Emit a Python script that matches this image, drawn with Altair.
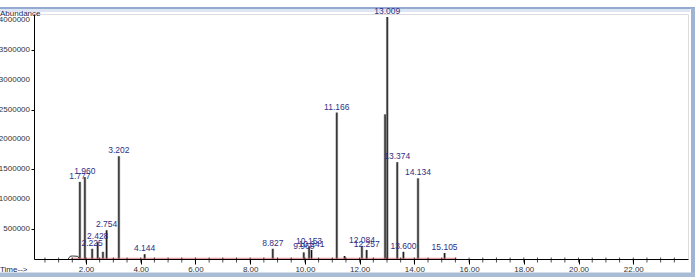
import altair as alt
import pandas as pd

# Peak retention times (min), apex abundances and labels
peak_rt = [1.777, 1.960, 2.225, 2.428, 2.620, 2.754, 3.202, 4.144, 8.827, 9.960,
           10.153, 10.241, 11.166, 11.450, 12.084, 12.257, 12.930, 13.009, 13.374,
           13.600, 14.134, 15.105]
peak_height = [1290000, 1370000, 170000, 280000, 120000, 480000, 1720000, 80000, 170000, 110000,
               200000, 150000, 2450000, 50000, 220000, 150000, 2420000, 4050000, 1620000,
               120000, 1350000, 100000]
peak_label = ["1.777", "1.960", "2.225", "2.428", "", "2.754", "3.202", "4.144", "8.827", "9.960",
              "10.153", "10.241", "11.166", "", "12.084", "12.257", "", "13.009", "13.374",
              "13.600", "14.134", "15.105"]

# small baseline humps of the trace
base_t = [1.35, 1.42, 1.50, 1.70, 1.76]
base_v = [0, 45000, 50000, 45000, 0]

# integration baseline (red)
red_t = [1.45, 15.55]
red_v = [12000, 12000]

x_ticks = [2, 4, 6, 8, 10, 12, 14, 16, 18, 20, 22]
x_minor = [i * 0.5 for i in range(1, 48)]
y_ticks = [500000, 1000000, 1500000, 2000000, 2500000, 3000000, 3500000, 4000000]

X_DOM = [0.1, 24.0]
Y_DOM = [0, 4100000]
W, H = 654, 245
FONT = "Liberation Sans"

peaks = pd.DataFrame({"t": peak_rt, "h": peak_height, "lab": peak_label})
base = pd.DataFrame({"t": base_t, "v": base_v})
red = pd.DataFrame({"t": red_t, "v": red_v})
yt = pd.DataFrame({"v": y_ticks, "s": [str(v) for v in y_ticks]})
one = pd.DataFrame({"a": [0]})

xs = alt.Scale(domain=X_DOM, nice=False, zero=False)
ys = alt.Scale(domain=Y_DOM, nice=False)

x_axis = alt.Axis(values=x_ticks, format=".2f", title=None, grid=False, domainColor="#000",
                  tickColor="#000", tickSize=5, labelFontSize=8, labelFont=FONT,
                  labelColor="#333", labelPadding=1, labelFlush=False, labelOverlap=False)
y_axis = alt.Axis(values=y_ticks, title=None, grid=False, domainColor="#000",
                  tickColor="#000", tickSize=3, labels=False)

minor = alt.Chart(pd.DataFrame({"t": x_minor})).mark_tick(
    orient="vertical", color="#000", size=5, thickness=1
).encode(
    x=alt.X("t:Q", scale=xs, axis=x_axis),
    y=alt.value(H + 1),
)

peak_gray = alt.Chart(peaks).mark_rule(color="#9a9a9a", strokeWidth=2.6).encode(
    x=alt.X("t:Q", scale=xs, axis=x_axis),
    y=alt.Y("h:Q", scale=ys, axis=y_axis),
    y2=alt.datum(0),
)
peak_black = alt.Chart(peaks).mark_rule(color="#111", strokeWidth=1).encode(
    x=alt.X("t:Q", scale=xs),
    y=alt.Y("h:Q", scale=ys),
    y2=alt.datum(0),
)

ylabels = alt.Chart(yt).mark_text(
    fontSize=8, font=FONT, color="#333", align="right", baseline="middle"
).encode(
    x=alt.value(-4),
    y=alt.Y("v:Q", scale=ys),
    text="s:N",
)

base_line = alt.Chart(base).mark_line(color="#333", strokeWidth=1).encode(
    x=alt.X("t:Q", scale=xs), y=alt.Y("v:Q", scale=ys)
)
red_line = alt.Chart(red).mark_line(color="#e06868", strokeWidth=0.8).encode(
    x=alt.X("t:Q", scale=xs), y=alt.Y("v:Q", scale=ys)
)

labels = alt.Chart(peaks).transform_filter("datum.lab != ''").mark_text(
    color="#2f2f86", fontSize=8.5, font=FONT, baseline="bottom", dy=-1
).encode(
    x=alt.X("t:Q", scale=xs),
    y=alt.Y("h:Q", scale=ys),
    text="lab:N",
)

abund = alt.Chart(one).mark_text(
    text="Abundance", fontSize=8, font=FONT, color="#1d1d4a", align="left", baseline="middle"
).encode(x=alt.value(-34), y=alt.value(0))
time_t = alt.Chart(one).mark_text(
    text="Time-->", fontSize=8, font=FONT, color="#1d1d4a", align="left", baseline="middle"
).encode(x=alt.value(-34), y=alt.value(256))

frame_top = alt.Chart(one).mark_rule(color="#6f8fc0", strokeWidth=1.6).encode(
    x=alt.value(-34), x2=alt.value(661), y=alt.value(-6)
)
frame_top2 = alt.Chart(one).mark_rule(color="#dde6f2", strokeWidth=3).encode(
    x=alt.value(-34), x2=alt.value(656), y=alt.value(-3.5)
)
frame_right = alt.Chart(one).mark_rule(color="#9fb4d4", strokeWidth=4).encode(
    x=alt.value(659), y=alt.value(-6), y2=alt.value(263)
)
frame_bottom = alt.Chart(one).mark_rule(color="#a9bcd6", strokeWidth=5).encode(
    x=alt.value(-34), x2=alt.value(661), y=alt.value(261)
)

chart = alt.layer(
    frame_top2, frame_top, frame_right, frame_bottom,
    peak_gray, peak_black, base_line, red_line, minor, labels, ylabels, abund, time_t
).properties(
    width=W, height=H,
    autosize=alt.AutoSizeParams(type="none"),
    padding={"left": 34, "top": 14, "right": 7, "bottom": 18},
).configure_view(stroke=None).configure(background="white")

chart.save("out.html", embed_options={"renderer": "svg", "actions": False})
